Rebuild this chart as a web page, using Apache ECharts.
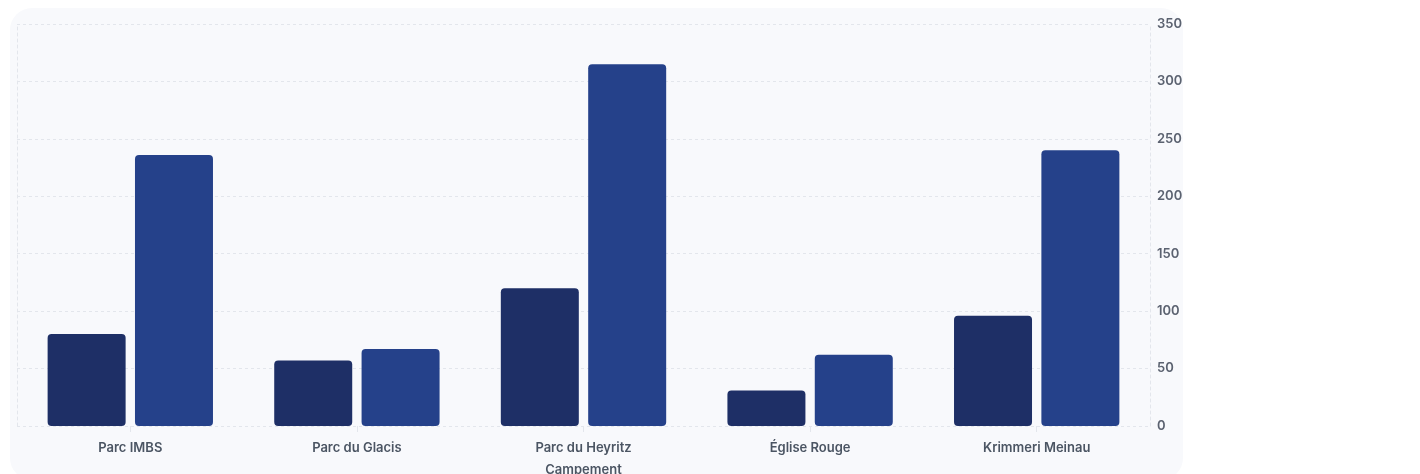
<!DOCTYPE html>
<html>
<head>
<meta charset="utf-8">
<script src="https://cdn.jsdelivr.net/npm/echarts@6/dist/echarts.min.js"></script>
<style>
  html, body { margin: 0; padding: 0; background: #ffffff; }
  #wrap { position: relative; width: 1420px; height: 474px; overflow: hidden; }
  #panel { position: absolute; left: 10px; top: 8px; width: 1173px; height: 472px; background: #f8f9fc; border-radius: 22px; }
  #chart { position: absolute; left: 0; top: 0; width: 1420px; height: 474px; }
</style>
</head>
<body>
<div id="wrap">
  <div id="panel"></div>
  <div id="chart"></div>
</div>
<script>
const categories = ['Parc IMBS', 'Parc du Glacis', 'Parc du Heyritz', 'Église Rouge', 'Krimmeri Meinau'];
const seriesDark = [80, 57, 120, 31, 96];
const seriesBlue = [236, 67, 315, 62, 240];
const yTicks = { min: 0, max: 350, interval: 50 };
const xAxisName = 'Campement';

const chart = echarts.init(document.getElementById('chart'), null, { renderer: 'canvas' });
const font = 'Inter, "Noto Sans", sans-serif';
const dash = { color: '#e3e6ec', type: [3, 3], width: 1 };

chart.setOption({
  backgroundColor: 'transparent',
  animation: false,
  grid: { left: 17, right: 270, top: 24, bottom: 48, containLabel: false, outerBoundsMode: 'none' },
  xAxis: {
    type: 'category',
    data: categories,
    name: xAxisName,
    nameLocation: 'middle',
    nameGap: 38,
    nameTextStyle: { color: '#4b5563', fontSize: 13, fontWeight: 600, fontFamily: font },
    axisLine: { show: false },
    axisTick: { show: true, alignWithLabel: true, length: 6, lineStyle: { color: '#e3e6ec' } },
    axisLabel: { color: '#4b5563', fontSize: 13, fontWeight: 600, fontFamily: font, margin: 16 },
    splitLine: { show: false }
  },
  yAxis: [
    {
      type: 'value',
      position: 'right',
      min: yTicks.min, max: yTicks.max, interval: yTicks.interval,
      axisLine: { show: true, lineStyle: dash },
      axisTick: { show: false },
      axisLabel: { color: '#5b6270', fontSize: 13, fontWeight: 600, fontFamily: font, margin: 7 },
      splitLine: { show: true, lineStyle: dash }
    },
    {
      type: 'value',
      position: 'left',
      min: yTicks.min, max: yTicks.max, interval: yTicks.interval,
      axisLine: { show: true, lineStyle: dash },
      axisTick: { show: false },
      axisLabel: { show: false },
      splitLine: { show: false }
    }
  ],
  series: [
    {
      type: 'bar',
      data: seriesDark,
      barWidth: 78,
      barGap: '12%',
      itemStyle: { color: '#1e2f66', borderRadius: 4 }
    },
    {
      type: 'bar',
      data: seriesBlue,
      barWidth: 78,
      barGap: '12%',
      itemStyle: { color: '#25418a', borderRadius: 4 }
    }
  ]
});
</script>
</body>
</html>
